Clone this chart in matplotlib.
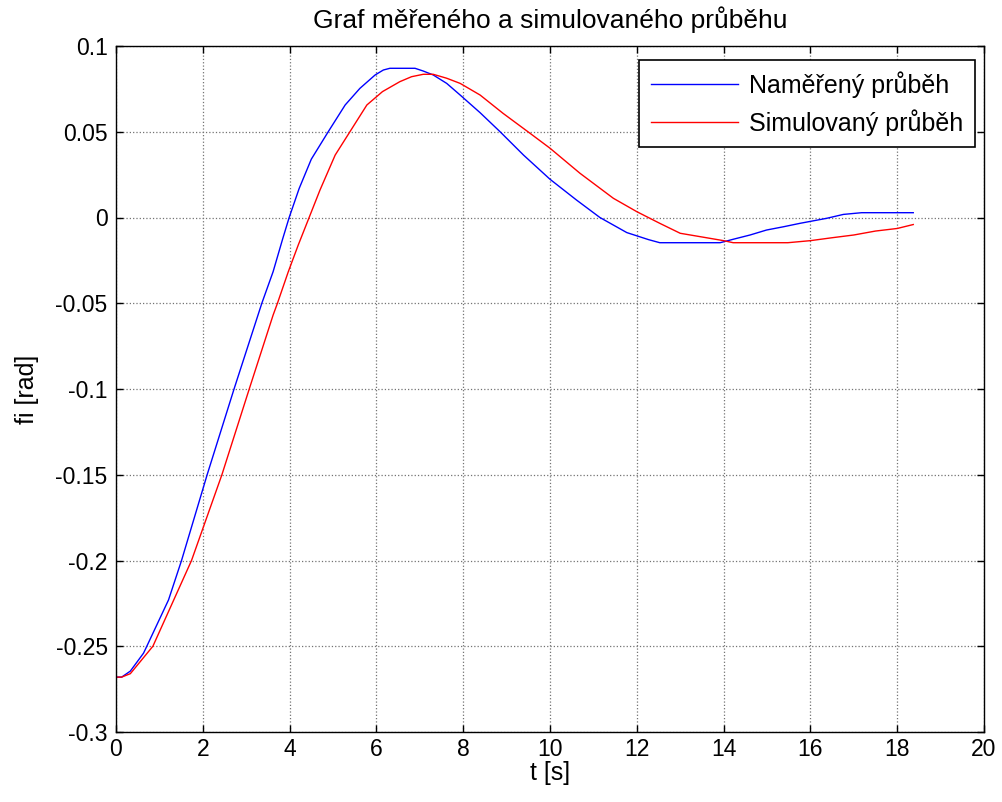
import matplotlib
matplotlib.use('Agg')
import matplotlib.pyplot as plt

plt.rcParams['font.family'] = ['Liberation Sans', 'DejaVu Sans']

######################################################################

# DATA

t_mereny = [0, 0.13, 0.33, 0.635, 0.71, 1.21, 1.51, 2.10, 2.72, 3.36, 3.62, 3.84,
            3.99, 4.22, 4.50, 4.89, 5.28, 5.62, 5.97, 6.16, 6.31, 6.89, 7.08,
            7.31, 7.62, 7.93, 8.39, 8.85, 9.39, 10.0, 10.61, 11.15, 11.77, 12.27,
            12.53, 13.92, 14.22, 14.61, 14.99, 15.38, 15.76, 16.37, 16.76, 17.18,
            18.37]
fi_mereny = [-0.268, -0.268, -0.2645, -0.254, -0.25, -0.223, -0.2, -0.15, -0.1,
             -0.05, -0.0316, -0.0125, 0.0, 0.0169, 0.034, 0.05, 0.0656, 0.0753,
             0.0831, 0.086, 0.087, 0.087, 0.0854, 0.0831, 0.0782, 0.0714, 0.0611,
             0.05, 0.0364, 0.0223, 0.0102, 0.0, -0.0088, -0.0129, -0.0147,
             -0.0147, -0.0127, -0.0102, -0.0073, -0.0054, -0.0034, -0.0005,
             0.0018, 0.0028, 0.0028]

t_sim = [0, 0.13, 0.33, 0.85, 1.74, 2.44, 3.07, 3.62, 3.72, 3.97, 4.20, 4.45,
         4.70, 5.05, 5.39, 5.78, 6.14, 6.54, 6.81, 7.08, 7.31, 7.62, 7.93, 8.39,
         8.92, 9.54, 10.0, 10.69, 11.46, 12.0, 12.53, 13.0, 14.0, 14.22, 15.48,
         16.0, 16.5, 17.0, 17.5, 18.0, 18.37]
fi_sim = [-0.268, -0.268, -0.266, -0.25, -0.2, -0.15, -0.1, -0.0569, -0.05,
          -0.0316, -0.0160, 0.0, 0.0160, 0.0364, 0.05, 0.0656, 0.0734, 0.0792,
          0.0821, 0.0835, 0.0835, 0.0812, 0.0782, 0.0714, 0.0607, 0.0491, 0.0404,
          0.0258, 0.0112, 0.0034, -0.0034, -0.0092, -0.0135, -0.0147, -0.0147,
          -0.0135, -0.0118, -0.0102, -0.0079, -0.0064, -0.0041]

x_ticks = list(range(0, 21, 2))
y_ticks = [-0.3, -0.25, -0.2, -0.15, -0.1, -0.05, 0, 0.05, 0.1]
y_labels = ['-0.3', '-0.25', '-0.2', '-0.15', '-0.1', '-0.05', '0', '0.05', '0.1']

######################################################################

# PLOT

fig = plt.figure(figsize=(10.02, 8.02), dpi=100)
ax = fig.add_axes([116 / 1002, 1 - 732 / 802, 868 / 1002, 686 / 802])

ax.plot(t_mereny, fi_mereny, color='#0000ff', linewidth=1.0, label='Naměřený průběh')
ax.plot(t_sim, fi_sim, color='#ff0000', linewidth=1.0, label='Simulovaný průběh')

ax.set_xlim(0, 20)
ax.set_ylim(-0.3, 0.1)
ax.set_xticks(x_ticks)
ax.set_yticks(y_ticks)
ax.set_yticklabels(y_labels)
ax.tick_params(direction='in', length=5, width=1, top=True, right=True,
               labelsize=16.5, pad=6)
ax.tick_params(axis='x', pad=4)
ax.grid(True, color='0.45', linestyle=':', linewidth=0.9)
for s in ax.spines.values():
    s.set_linewidth(1.0)

ax.set_xlabel('t [s]', fontsize=18, labelpad=0)
ax.set_ylabel('fi [rad]', fontsize=18, labelpad=12)
ax.set_title('Graf měřeného a simulovaného průběhu', fontsize=19, pad=13)

leg = ax.legend(loc='upper right', bbox_to_anchor=(0.9896, 0.9796), borderaxespad=0,
                fontsize=18, fancybox=False, framealpha=1, edgecolor='black',
                handlelength=3.5, handletextpad=0.45, labelspacing=0.45,
                borderpad=0.45)
leg.get_frame().set_linewidth(1.2)

plt.savefig('out.png', dpi=100)
